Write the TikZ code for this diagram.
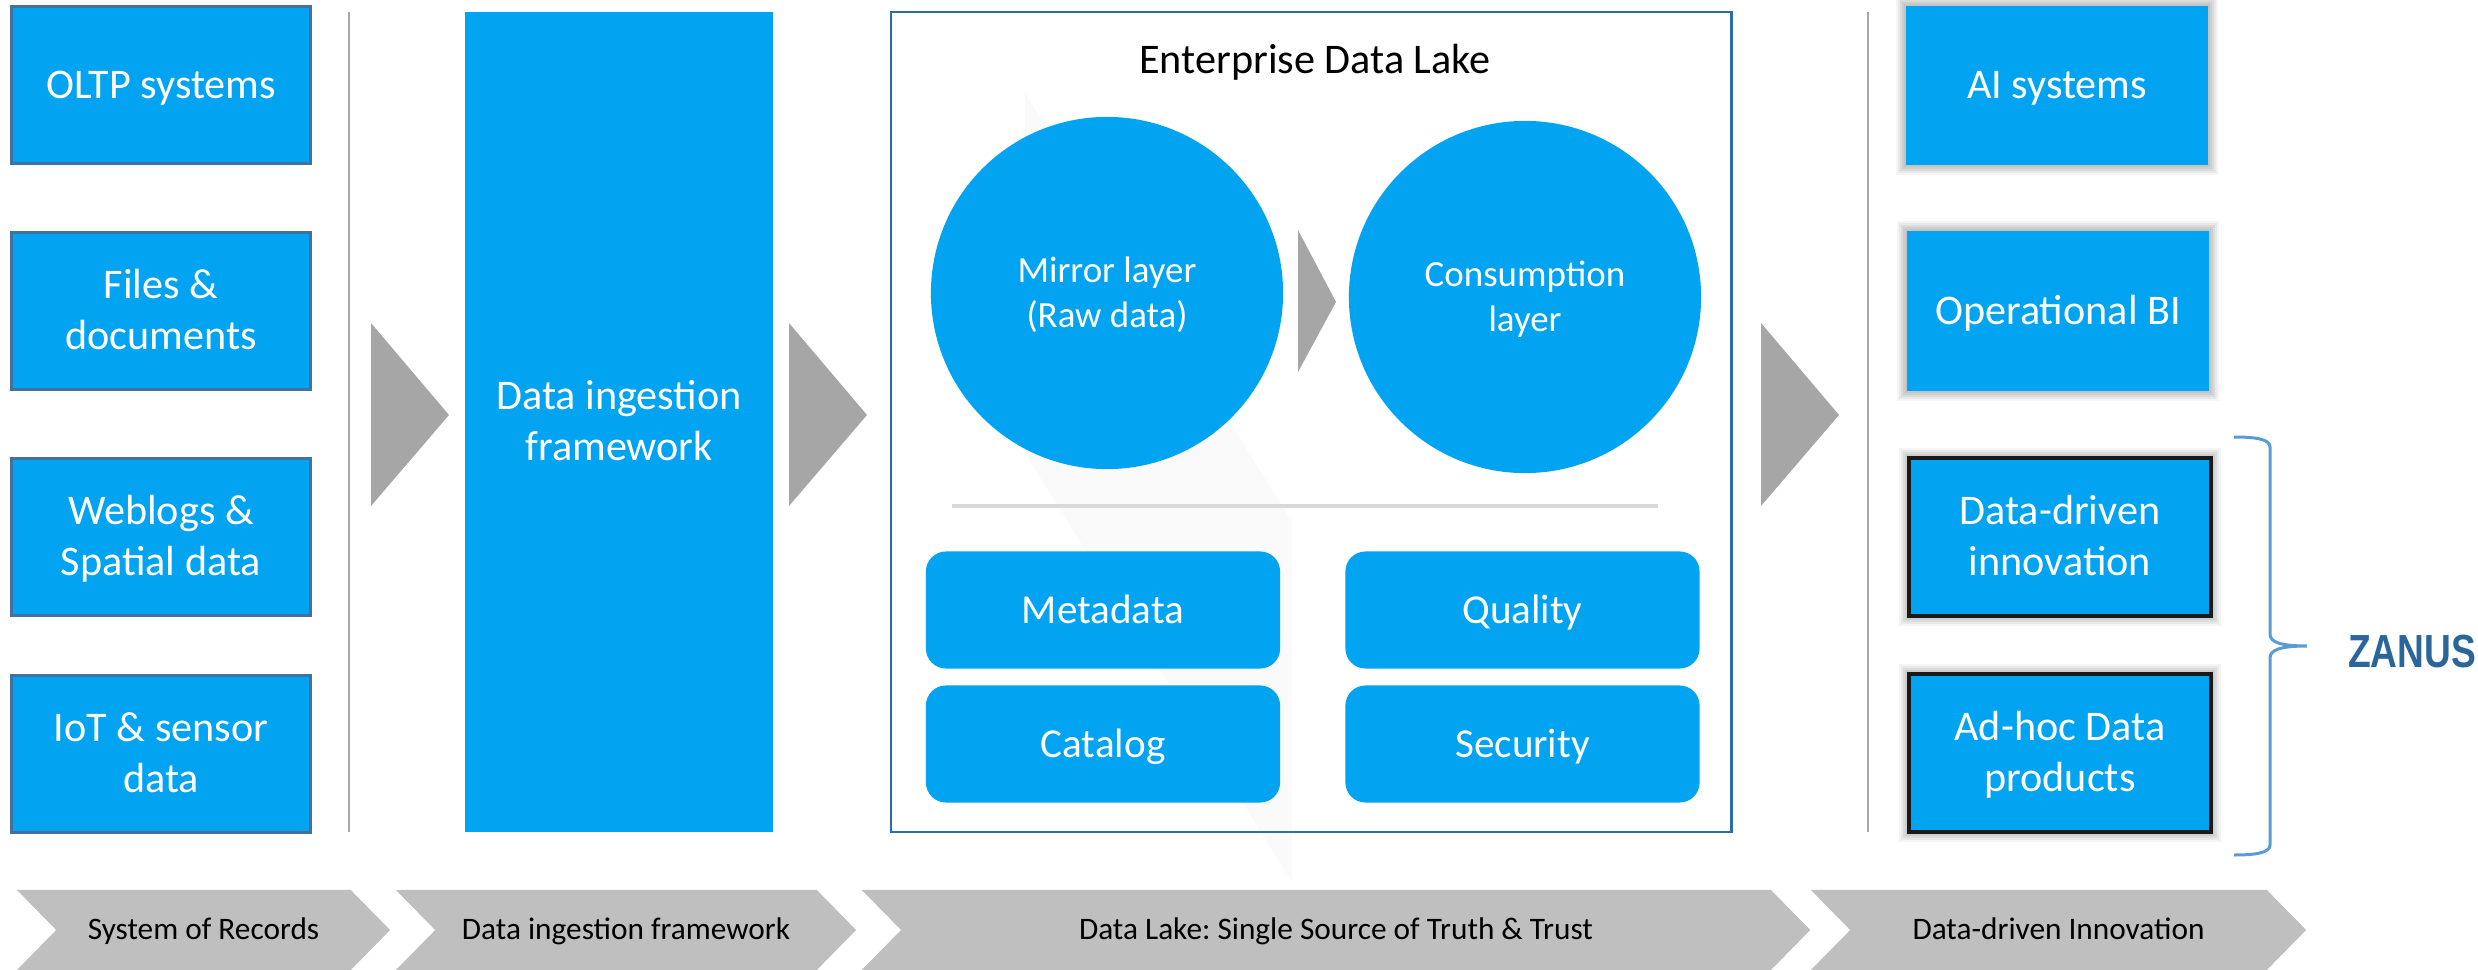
\documentclass[tikz,border=0pt]{standalone}
\usepackage{fontspec}
\usepackage{tikz}
\usetikzlibrary{shapes.symbols}
\setmainfont{Carlito}
\definecolor{lakeblue}{HTML}{02A3F0}
\definecolor{edgeblue}{HTML}{41719C}
\definecolor{frameblue}{HTML}{2E6CA4}
\definecolor{bracketblue}{HTML}{5B9BD5}
\definecolor{zanusblue}{HTML}{2A6699}
\definecolor{arrowgrey}{HTML}{A6A6A6}
\definecolor{bandgrey}{HTML}{BFBFBF}
\newcommand{\boxstrut}{\rule[-3pt]{0pt}{13.4pt}}
\newcommand{\roundstrut}{\rule[-3pt]{0pt}{13.8pt}}
\newcommand{\circlestrut}{\rule[-2.8pt]{0pt}{12.7pt}}
\newcommand{\bandstrut}{\rule[-2.5pt]{0pt}{10.2pt}}

\begin{document}
\begin{tikzpicture}[x=0.01cm,y=-0.01cm]
\tikzstyle{tallbox}=[rectangle, fill=lakeblue, text=white, align=center, inner sep=0pt,
    minimum width=2.99cm, minimum height=1.57cm, font=\fontsize{12}{14.6}\selectfont,
    execute at begin node=\boxstrut, execute at end node=\boxstrut]
\tikzstyle{sourcebox}=[tallbox, draw=edgeblue, line width=0.03cm]
\tikzstyle{softshadow}=[preaction={draw=black, opacity=0.05, line width=0.04cm},
    preaction={draw=black, opacity=0.06, line width=0.08cm},
    preaction={draw=black, opacity=0.06, line width=0.12cm},
    preaction={draw=black, opacity=0.05, line width=0.16cm},
    preaction={draw=black, opacity=0.04, line width=0.20cm}]
\tikzstyle{outputbox}=[tallbox, softshadow, minimum width=3.02cm, minimum height=1.59cm]
\tikzstyle{blackbox}=[tallbox, softshadow, draw=black!90, line width=0.04cm, minimum width=3.02cm]
\tikzstyle{layercircle}=[circle, fill=lakeblue, text=white, align=center, inner sep=0pt,
    minimum size=3.52cm, font=\fontsize{10.5}{12.8}\selectfont,
    execute at begin node=\circlestrut, execute at end node=\circlestrut]
\tikzstyle{roundbox}=[rectangle, rounded corners=0.2cm, fill=lakeblue, text=white, inner sep=0pt,
    minimum width=3.54cm, minimum height=1.17cm, font=\fontsize{11.7}{14}\selectfont,
    execute at begin node=\roundstrut]
\tikzstyle{band}=[signal, signal from=west, signal to=east, signal pointer angle=91, fill=bandgrey,
    inner sep=0pt, minimum height=0.8cm, font=\fontsize{8.9}{11}\selectfont\frenchspacing,
    execute at begin node=\bandstrut]
\tikzstyle{flowarrow}=[fill=arrowgrey]
\tikzstyle{sepline}=[draw=arrowgrey, line width=0.025cm]

\useasboundingbox (0,0) rectangle (2478,970);

% faint shape behind the lake
\fill[black!2] (1025,93) -- (1292,522) -- (1292,882) -- (1025,453) -- cycle;

% sources
\node[sourcebox] (oltp) at (161,85) {OLTP systems};
\node[sourcebox] (files) at (161,311) {\boxstrut Files \&\\documents};
\node[sourcebox] (weblogs) at (161,537) {\boxstrut Weblogs \&\\Spatial data};
\node[sourcebox] (iot) at (161,754) {\boxstrut IoT \& sensor\\data};

\coordinate (sepAtop) at (349,12);
\coordinate (sepAbot) at (349,832);
\draw[sepline] (sepAtop) -- (sepAbot);

\fill[flowarrow] (371,323) -- (449,415) -- (371,506) -- cycle;

\node[tallbox, minimum width=3.08cm, minimum height=8.2cm] (ingest) at (619,422) {\boxstrut Data ingestion\\framework};

\fill[flowarrow] (789,323) -- (867,415) -- (789,506) -- cycle;

% the lake
\node[rectangle, draw=frameblue, line width=0.025cm, fill=none, inner sep=0pt,
    minimum width=8.4cm, minimum height=8.2cm] (lake) at (1311,422) {};
\node[font=\fontsize{12}{14.6}\selectfont] (laketitle) at (1315,62) {Enterprise Data Lake};

\node[layercircle] (mirror) at (1107,293) {\circlestrut Mirror layer\\(Raw data)};
\node[layercircle] (consume) at (1525,297) {\circlestrut Consumption\\layer};
\fill[flowarrow] (1298,230) -- (1336,302) -- (1298,372) -- cycle;

\coordinate (divleft) at (952,506);
\coordinate (divright) at (1658,506);
\draw[draw=black!15, line width=0.04cm] (divleft) -- (divright);

\node[roundbox] (metadata) at (1103,610) {Metadata};
\node[roundbox] (quality) at (1522.5,610) {Quality};
\node[roundbox] (catalog) at (1103,744) {Catalog};
\node[roundbox] (security) at (1522.5,744) {Security};

\coordinate (sepBtop) at (1868,12);
\coordinate (sepBbot) at (1868,832);
\draw[sepline] (sepBtop) -- (sepBbot);

\fill[flowarrow] (1761,323) -- (1839,415) -- (1761,506) -- cycle;

% outputs
\node[outputbox] (ai) at (2057,85.5) {AI systems};
\node[outputbox] (bi) at (2058,311) {Operational BI};
\node[blackbox] (innovation) at (2060,537) {\boxstrut Data-driven\\innovation};
\node[blackbox] (adhoc) at (2060,753) {\boxstrut Ad-hoc Data\\products};

% bracket
\coordinate (brtop) at (2234,437);
\coordinate (brbot) at (2234,855);
\coordinate (brtip) at (2307,646);
\draw[bracketblue, line width=0.03cm] (brtop) .. controls (2255,437) and (2270,439) .. (2270,447)
    -- (2270,634) .. controls (2270,642) and (2280,646) .. (brtip)
    .. controls (2280,646) and (2270,650) .. (2270,658)
    -- (2270,845) .. controls (2270,853) and (2255,855) .. (brbot);

\node[text=zanusblue, inner sep=0pt, xscale=0.88, yscale=1.1, font=\fontsize{12}{14}\selectfont\fontspec{Liberation Sans}\bfseries] (zanus) at (2412,652) {ZANUS};

% bottom band
\node[band, minimum width=3.73cm] (recs) at (203.5,930) {System of Records};
\node[band, minimum width=4.60cm] (ingband) at (626,930) {Data ingestion framework};
\node[band, minimum width=9.48cm] (lakeband) at (1336,930) {Data Lake: Single Source of Truth \& Trust};
\node[band, minimum width=4.95cm] (innoband) at (2058.5,930) {Data-driven Innovation};
\end{tikzpicture}
\end{document}
